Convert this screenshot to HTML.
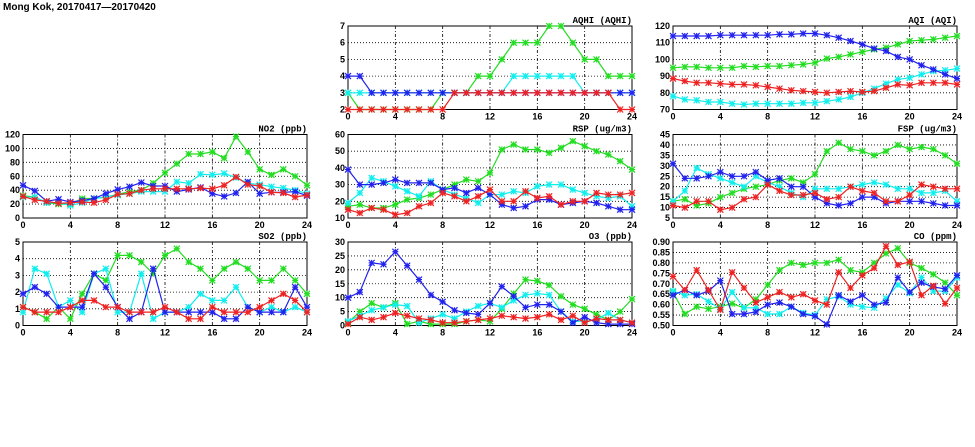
<!DOCTYPE html>
<html><head><meta charset="utf-8">
<style>
body{margin:0;background:#fff;width:975px;height:447px;overflow:hidden}
svg{display:block}
text{font-family:"Liberation Sans",sans-serif;font-weight:bold;font-size:9px;fill:#000}
.ttl{font-family:"Liberation Mono",monospace;font-size:9px}
</style></head>
<body>
<svg id="chart" width="975" height="447">
<text x="3" y="10" style="font-size:10px">Mong Kok, 20170417—20170420</text>
</svg>
<script>
const hours=[0,1,2,3,4,5,6,7,8,9,10,11,12,13,14,15,16,17,18,19,20,21,22,23,24];
const xTicks=[0,4,8,12,16,20,24];
const seriesNames=['green','cyan','blue','red'];
const seriesColors=['#22dd22','#11eeee','#2222ee','#ee2222'];

const no2Green=[32,30,22,20,20,28,28,30,34,38,40,50,65,78,92,92,95,86,117,95,70,62,70,60,47];
const no2Cyan=[30,30,22,22,18,22,28,30,33,35,38,38,38,52,50,63,62,64,58,50,48,45,43,40,35];
const no2Blue=[47,39,24,27,23,25,28,35,41,45,51,46,46,38,41,44,35,31,36,52,35,37,37,38,32];
const no2Red=[31,26,24,21,22,23,22,26,34,35,40,42,42,42,42,43,42,47,59,48,46,37,36,30,33];
const no2Ticks=[0,20,40,60,80,100,120];

const so2Green=[1.1,0.8,0.4,1.1,0.4,1.9,3.1,2.7,4.2,4.2,3.8,3.1,4.2,4.6,3.8,3.4,2.7,3.4,3.8,3.4,2.7,2.7,3.4,2.7,1.9];
const so2Cyan=[0.8,3.4,3.1,1.1,1.5,0.8,3.1,3.4,0.8,0.8,3.1,0.4,0.8,0.8,1.1,1.9,1.5,1.5,2.3,1.1,0.8,1.1,0.8,1.1,0.8];
const so2Blue=[1.9,2.3,1.9,1.1,1.1,1.1,3.1,2.3,1.1,0.4,0.8,3.4,0.8,0.8,0.8,0.8,0.8,0.4,0.4,1.1,0.8,0.8,0.8,2.3,1.1];
const so2Red=[1.1,0.8,0.8,0.8,1.1,1.5,1.5,1.1,1.1,0.8,0.8,0.8,1.1,0.8,0.4,0.4,1.1,0.8,0.8,0.8,1.1,1.5,1.9,1.5,0.8];
const so2Ticks=[0,1,2,3,4,5];

const aqhiGreen=[3,2,2,2,2,2,2,2,3,3,3,4,4,5,6,6,6,7,7,6,5,5,4,4,4];
const aqhiCyan=[3,3,3,3,3,3,3,3,3,3,3,3,3,3,4,4,4,4,4,4,3,3,3,3,3];
const aqhiBlue=[4,4,3,3,3,3,3,3,3,3,3,3,3,3,3,3,3,3,3,3,3,3,3,3,3];
const aqhiRed=[2,2,2,2,2,2,2,2,2,3,3,3,3,3,3,3,3,3,3,3,3,3,3,2,2];
const aqhiTicks=[2,3,4,5,6,7];

const aqiGreen=[95,95.5,95.5,95,95,95,96,95.5,96,96,96.5,97,98,100.5,101.5,103,104.5,106,107,109,111,111.5,112,113,114];
const aqiCyan=[78,76,75.5,74.5,74.5,73.5,73,73.5,73.5,73.5,73.5,74,74,75,76,77.5,80,82.5,85.5,88,89,91,93,93.5,94.5];
const aqiBlue=[114,114,114,114,114.5,114.5,114.5,114.5,114.5,115,115,115.5,115.5,114.5,113,111,109,106.5,105,101.5,100,96.5,94,91,88.5];
const aqiRed=[88.5,87,86,86,85.5,85,85,84.5,83.5,82.5,81.5,81,80.5,80,80.5,81,80.5,81,83,85,84.5,86,86,86,85];
const aqiTicks=[70,80,90,100,110,120];

const rspGreen=[17,18,16,16,18,21,22,24,27,30,33,32,37,51,54,51,51,49,52,56,53,50,48,44,39];
const rspCyan=[19,25,34,32,29,26,23,32,27,24,22,19,24,24,26,25,29,30,30,27,25,23,22,23,17];
const rspBlue=[39,30,30,31,33,31,31,31,27,28,25,28,24,18,16,17,21,21,18,19,20,19,17,15,15];
const rspRed=[15,13,16,15,12,13,17,19,25,23,20,23,27,20,20,26,22,23,18,20,20,25,24,24,25];
const rspTicks=[10,20,30,40,50,60];

const o3Green=[1,5,8,6.5,8,0.5,1.5,0.5,0.5,0.5,1.5,2,1.5,6,11.5,16.5,16,14.5,10.5,7.5,6,4,2,5,9.5];
const o3Cyan=[1.5,3.5,5.5,6.5,7.5,7,1,2.5,4,2.5,5,7,8,6.5,9,11,11.5,11,5,1.5,1.5,2,4.5,2,1];
const o3Blue=[10,12,22.5,22,26.5,21.5,16.5,11,8.5,5.5,4.5,4,8,14,10.5,6.5,7.5,7.5,5,1,3,1,0.5,0.5,0.5];
const o3Red=[0.5,3,2,3,4.5,3.5,2.5,2,1,1,1.5,2,2.5,3.5,3,2.5,3,4,2,3.5,1,2.5,2,2,1];
const o3Ticks=[0,5,10,15,20,25,30];

const fspGreen=[13,14,11,12,15,17,19,20,21,23,24,22,26,37,41,38,37,35,37,40,38,39,38,35,31];
const fspCyan=[13,18,29,26,24,22,20,25,22,20,17,15,19,19,19,20,21,22,21,19,19,17,17,18,13];
const fspBlue=[31,24,24,25,27,25,25,27,23,24,20,20,15,12,11,12,15,15,12,13,13,13,12,11,11];
const fspRed=[11,10,13,13,9,10,14,15,21,18,16,16,17,14,15,20,18,17,13,13,16,21,20,19,19];
const fspTicks=[5,10,15,20,25,30,35,40,45];

const coGreen=[0.66,0.555,0.59,0.58,0.59,0.605,0.585,0.625,0.695,0.765,0.80,0.79,0.80,0.80,0.815,0.765,0.755,0.80,0.845,0.87,0.80,0.775,0.745,0.705,0.645];
const coCyan=[0.665,0.645,0.65,0.615,0.58,0.66,0.585,0.585,0.555,0.555,0.59,0.56,0.55,0.625,0.64,0.60,0.59,0.585,0.63,0.695,0.655,0.73,0.665,0.665,0.73];
const coBlue=[0.645,0.67,0.645,0.665,0.715,0.555,0.555,0.565,0.60,0.61,0.59,0.555,0.545,0.505,0.645,0.615,0.645,0.60,0.61,0.73,0.66,0.705,0.685,0.675,0.74];
const coRed=[0.735,0.67,0.765,0.67,0.575,0.755,0.68,0.61,0.635,0.66,0.635,0.65,0.62,0.60,0.755,0.68,0.74,0.775,0.88,0.79,0.805,0.645,0.69,0.605,0.68];
const coTicks=[0.50,0.55,0.60,0.65,0.70,0.75,0.80,0.85,0.90];

const NS='http://www.w3.org/2000/svg';
const svg=document.getElementById('chart');
function mk(tag,attrs,parent){const e=document.createElementNS(NS,tag);for(const k in attrs)e.setAttribute(k,attrs[k]);(parent||svg).appendChild(e);return e;}

const panels=[
 {id:'aqhi',title:'AQHI (AQHI)',x:348,y:26,data:[aqhiGreen,aqhiCyan,aqhiBlue,aqhiRed],ticks:aqhiTicks,dec:0},
 {id:'aqi',title:'AQI (AQI)',x:673,y:26,data:[aqiGreen,aqiCyan,aqiBlue,aqiRed],ticks:aqiTicks,dec:0},
 {id:'no2',title:'NO2 (ppb)',x:23,y:134.5,data:[no2Green,no2Cyan,no2Blue,no2Red],ticks:no2Ticks,dec:0},
 {id:'rsp',title:'RSP (ug/m3)',x:348,y:134.5,data:[rspGreen,rspCyan,rspBlue,rspRed],ticks:rspTicks,dec:0},
 {id:'fsp',title:'FSP (ug/m3)',x:673,y:134.5,data:[fspGreen,fspCyan,fspBlue,fspRed],ticks:fspTicks,dec:0},
 {id:'so2',title:'SO2 (ppb)',x:23,y:242,data:[so2Green,so2Cyan,so2Blue,so2Red],ticks:so2Ticks,dec:0},
 {id:'o3',title:'O3 (ppb)',x:348,y:242,data:[o3Green,o3Cyan,o3Blue,o3Red],ticks:o3Ticks,dec:0},
 {id:'co',title:'CO (ppm)',x:673,y:242,data:[coGreen,coCyan,coBlue,coRed],ticks:coTicks,dec:2}
];
const W=284,H=83.5;
panels.forEach(p=>{
 const g=mk('g',{});
 
 
 const lo=p.ticks[0],hi=p.ticks[p.ticks.length-1];
 const sx=v=>p.x+v/24*W;
 const sy=v=>p.y+H-(v-lo)/(hi-lo)*H;
 // grid
 p.ticks.forEach((t,i)=>{
  if(i>0&&i<p.ticks.length-1){const l=mk('line',{x1:p.x,x2:p.x+W,y1:sy(t),y2:sy(t),stroke:'#000','stroke-width':0.8,'stroke-dasharray':'1,2'},g);}
  const tx=mk('text',{x:p.x-3,y:sy(t)+3,'text-anchor':'end'},g);
  
  
  tx.textContent=t.toFixed(p.dec);
 });
 xTicks.forEach((t,i)=>{
  if(i>0&&i<xTicks.length-1){const l=mk('line',{x1:sx(t),x2:sx(t),y1:p.y,y2:p.y+H,stroke:'#000','stroke-width':0.8,'stroke-dasharray':'3,2,1,2'},g);}
  const tx=mk('text',{x:sx(t),y:p.y+H+10,'text-anchor':'middle'},g);
  
  
  tx.textContent=t;
 });
 const fr=mk('rect',{x:p.x,y:p.y,width:W,height:H,fill:'none',stroke:'#000','stroke-width':1},g);
 
 
 const tt=mk('text',{x:p.x+W,y:p.y-3,'text-anchor':'end','class':'ttl'},g);
 
 
 tt.textContent=p.title;
 p.data.forEach((vals,si)=>{
  const c=seriesColors[si];
  const sg=mk('g',{},g);
  
  
  const pts=vals.map((v,i)=>sx(hours[i]).toFixed(1)+','+sy(v).toFixed(1)).join(' ');
  const pl=mk('polyline',{points:pts,fill:'none',stroke:c,'stroke-width':1.2},sg);
  
  
  vals.forEach((v,i)=>{
   const x=sx(hours[i]),y=sy(v),r=3;
   const m=mk('path',{d:`M${x-r},${y}H${x+r}M${x},${y-r}V${y+r}M${x-r},${y-r}L${x+r},${y+r}M${x-r},${y+r}L${x+r},${y-r}`,stroke:c,'stroke-width':1.2,fill:'none'},sg);
   
   
  });
 });
});
</script>
</body></html>
